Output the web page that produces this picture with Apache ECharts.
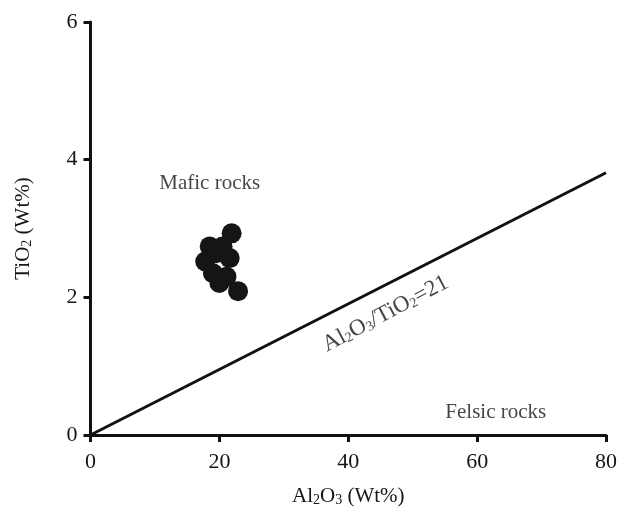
<!DOCTYPE html>
<html>
<head>
<meta charset="utf-8">
<script src="https://cdn.jsdelivr.net/npm/echarts@6/dist/echarts.min.js"></script>
<style>
  html, body { margin: 0; padding: 0; background: #fff; }
  #chart { width: 620px; height: 518px; }
</style>
</head>
<body>
<div id="chart"></div>
<script>
// sample points (Al2O3, TiO2 in wt%)
const al2o3 = [21.9, 22.9, 17.8, 18.5, 19.5, 20.5, 21.6, 19.0, 20.0, 21.1]
const tio2 = [2.93, 2.09, 2.52, 2.74, 2.64, 2.74, 2.57, 2.35, 2.21, 2.30]

// Al2O3/TiO2 = 21 divider
const ratioX = [0, 80]
const ratioY = [0, 80 / 21]

// field / line labels
const labelText = ['Mafic rocks', 'Felsic rocks', 'Al{s|2}O{s|3}/TiO{s|2}=21']
const labelX = [18.5, 62.9, 45.8]
const labelY = [3.66, 0.32, 1.76]
const labelRot = [0, 0, 28]

const xTicks = [0, 20, 40, 60, 80]
const yTicks = [0, 2, 4, 6]

const FONT = '"Liberation Serif", "DejaVu Serif", serif'
const TXT = '#151515'
const sub = { fontSize: 14, fontFamily: FONT, color: TXT, padding: [8, 0, 0, 0] }

const chart = echarts.init(document.getElementById('chart'))

chart.setOption({
  animation: false,
  grid: { left: 90.5, right: 13, top: 22, bottom: 83 },
  xAxis: {
    type: 'value',
    min: 0,
    max: 80,
    interval: 20,
    name: 'Al{s|2}O{s|3} (Wt%)',
    nameLocation: 'middle',
    nameGap: 50,
    nameTextStyle: { fontFamily: FONT, fontSize: 21, color: TXT, rich: { s: sub } },
    axisLine: { lineStyle: { color: '#111', width: 3 } },
    axisTick: { inside: false, length: 7, lineStyle: { color: '#111', width: 3 } },
    axisLabel: {
      fontFamily: FONT, fontSize: 22, color: TXT, margin: 16,
      formatter: v => (xTicks.includes(v) ? String(v) : '')
    },
    splitLine: { show: false }
  },
  yAxis: {
    type: 'value',
    min: 0,
    max: 6,
    interval: 2,
    name: 'TiO{s|2} (Wt%)',
    nameLocation: 'middle',
    nameGap: 56,
    nameRotate: 90,
    nameTextStyle: { fontFamily: FONT, fontSize: 21, color: TXT, rich: { s: sub } },
    axisLine: { lineStyle: { color: '#111', width: 3 } },
    axisTick: { inside: false, length: 7, lineStyle: { color: '#111', width: 3 } },
    axisLabel: {
      fontFamily: FONT, fontSize: 22, color: TXT, margin: 13,
      formatter: v => (yTicks.includes(v) ? String(v) : '')
    },
    splitLine: { show: false }
  },
  series: [
    {
      type: 'line',
      data: ratioX.map((x, i) => [x, ratioY[i]]),
      symbol: 'none',
      lineStyle: { color: '#111', width: 3 },
      z: 2
    },
    {
      type: 'scatter',
      data: al2o3.map((x, i) => [x, tio2[i]]),
      symbolSize: 20,
      itemStyle: { color: '#151515', opacity: 1 },
      z: 3
    },
    {
      type: 'scatter',
      symbolSize: 0,
      silent: true,
      data: labelText.map((t, i) => ({
        value: [labelX[i], labelY[i]],
        label: {
          show: true,
          position: 'inside',
          rotate: labelRot[i],
          formatter: t,
          fontFamily: FONT,
          fontSize: i === 2 ? 23 : 21,
          color: TXT,
          rich: { s: sub }
        }
      }))
    }
  ]
})
</script>
</body>
</html>
